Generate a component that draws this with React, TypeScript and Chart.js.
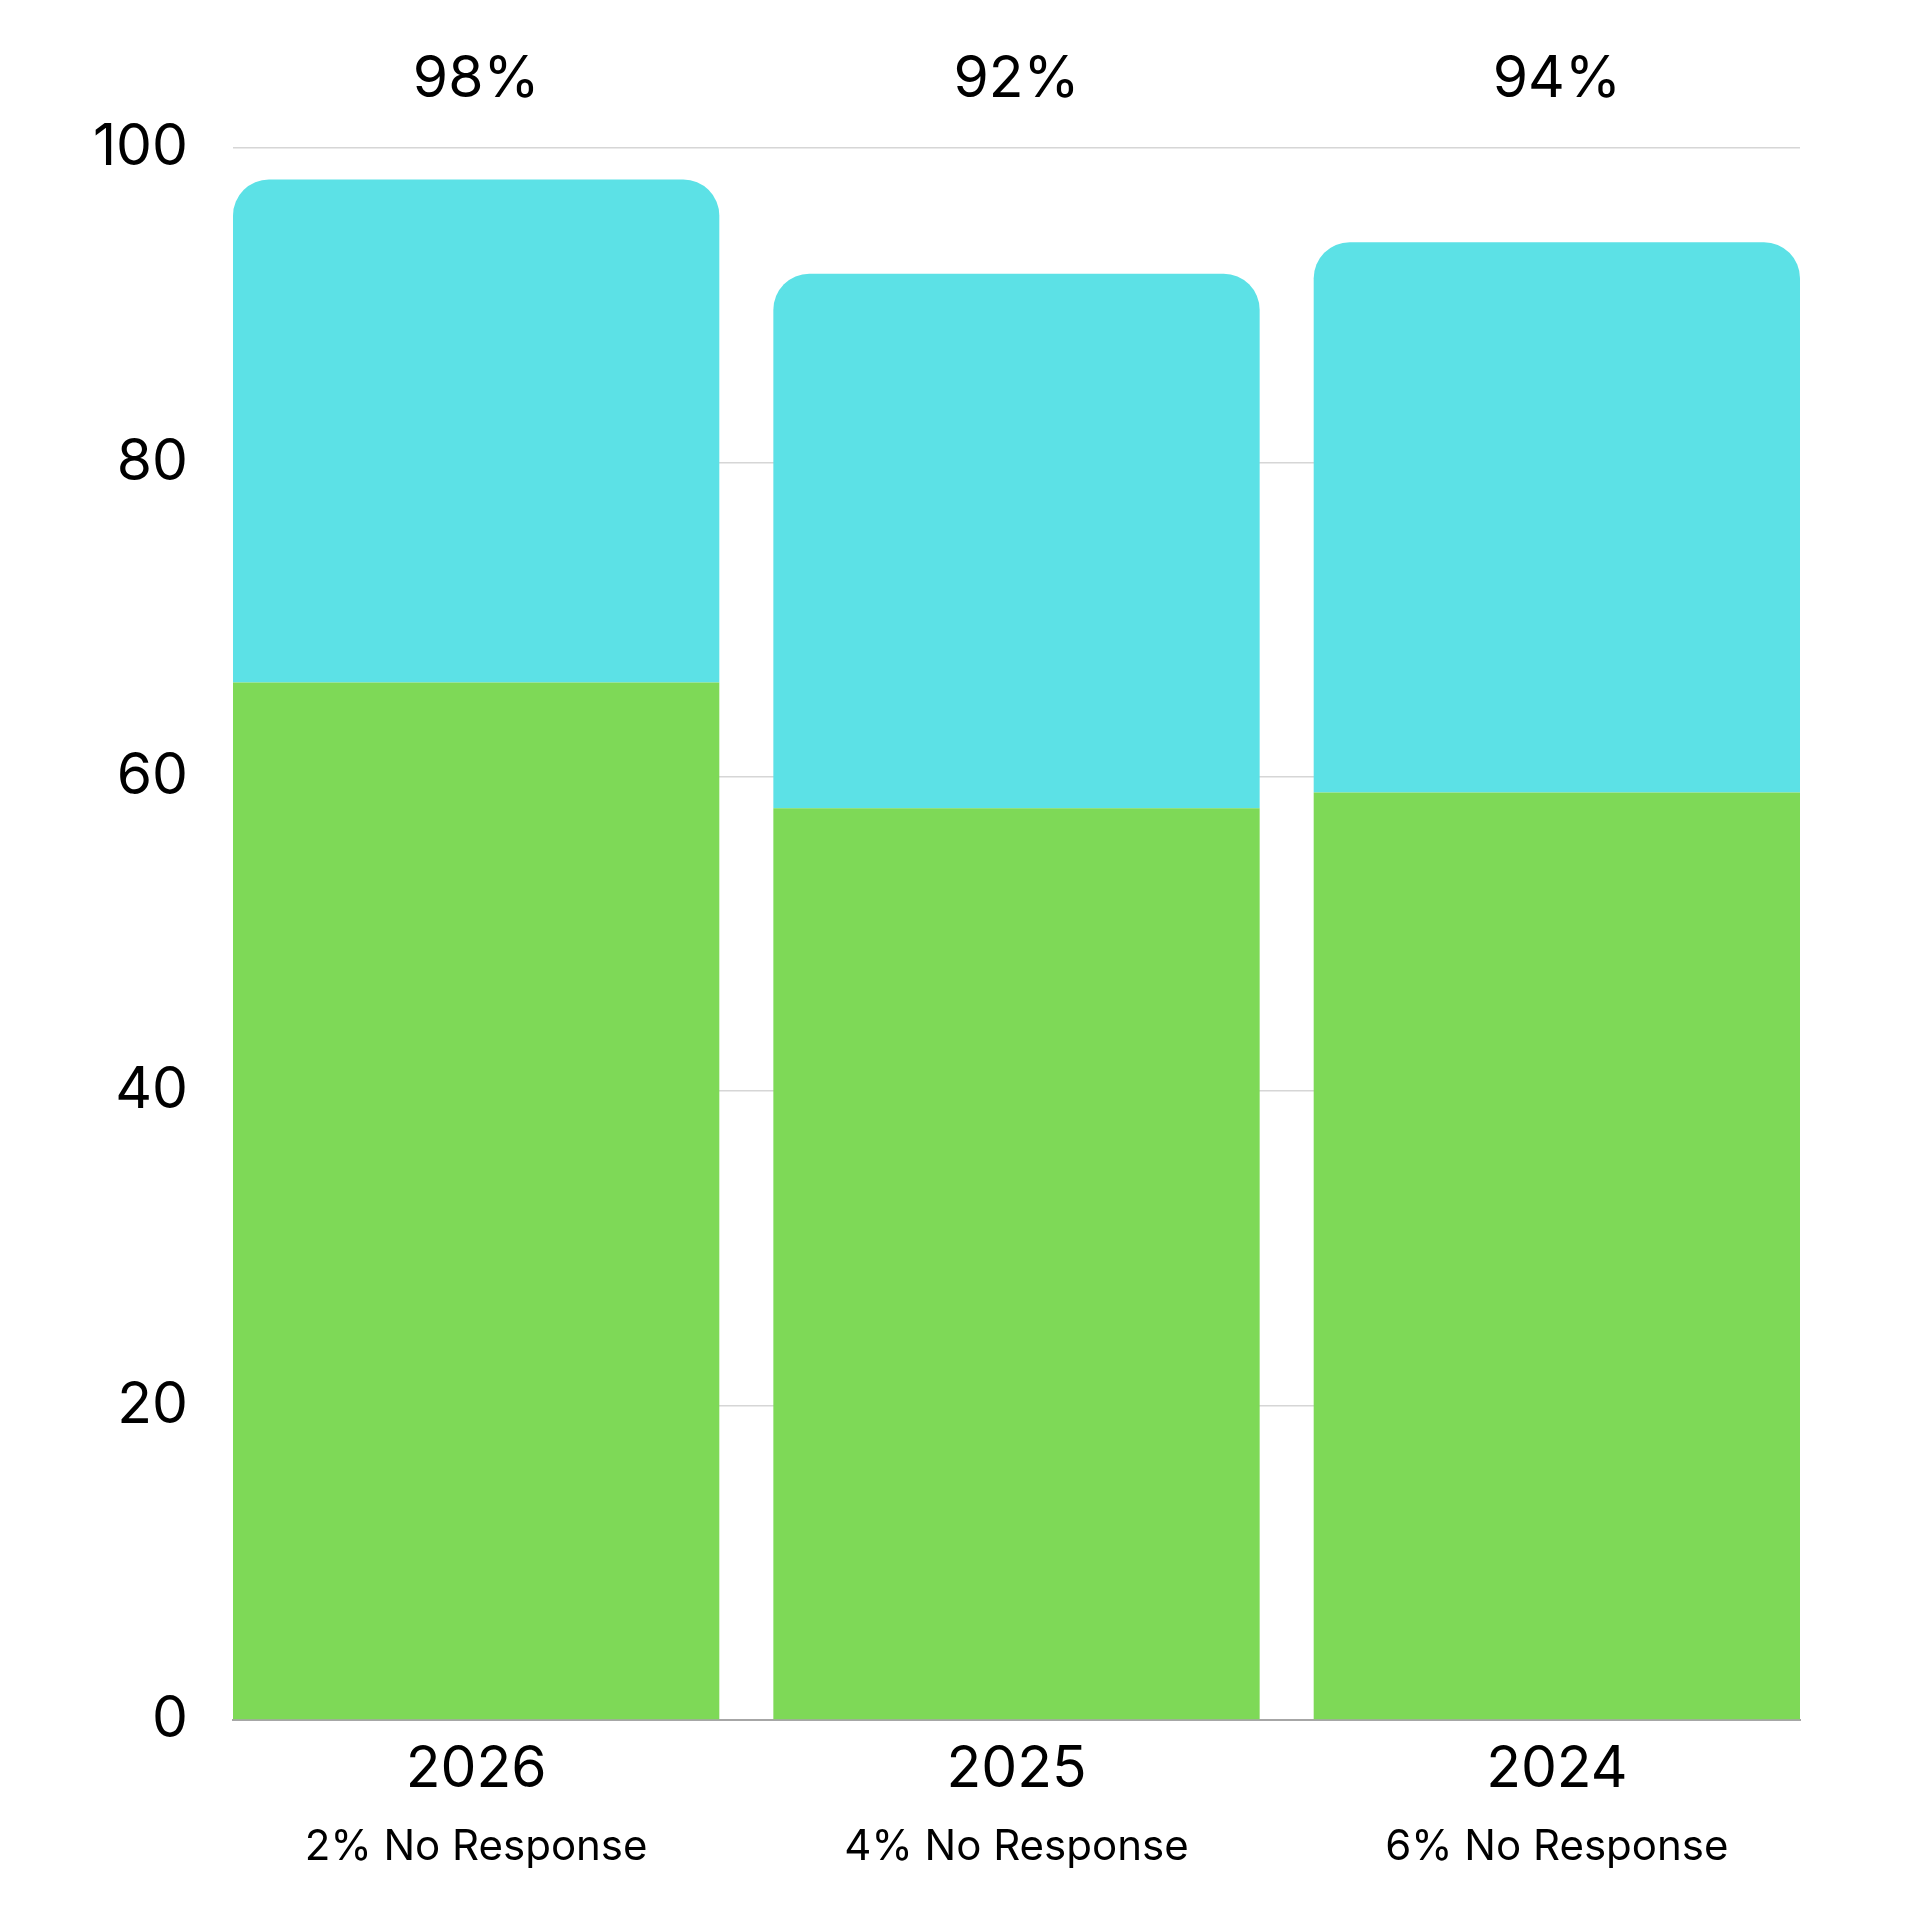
import { useEffect, useRef } from "react";
import { Chart, ChartConfiguration, Plugin, registerables } from "chart.js";

Chart.register(...registerables);

const years = ["2026", "2025", "2024"];
const greenValues = [66, 58, 59];
const cyanValues = [32, 34, 35];
const totalLabels = ["98%", "92%", "94%"];
const noResponse = [2, 4, 6];
const yTicks = [0, 20, 40, 60, 80, 100];

const FONT = "Inter, 'Noto Sans', sans-serif";

// totals above the plot and the "No Response" line under each year
const extraText: Plugin<"bar"> = {
  id: "extraText",
  afterDraw(chart) {
    const { ctx, chartArea, scales } = chart;
    const x = scales.x;
    ctx.save();
    ctx.fillStyle = "#000";
    ctx.textAlign = "center";
    ctx.textBaseline = "middle";
    ctx.font = `57px ${FONT}`;
    totalLabels.forEach((t, i) => {
      ctx.fillText(t, x.getPixelForValue(i), chartArea.top - 68);
    });
    ctx.font = `42px ${FONT}`;
    noResponse.forEach((v, i) => {
      ctx.fillText(`${v}% No Response`, x.getPixelForValue(i), chartArea.bottom + 127);
    });
    ctx.restore();
  },
};

export default function App() {
  const canvasRef = useRef<HTMLCanvasElement>(null);
  const chartRef = useRef<Chart | null>(null);

  useEffect(() => {
    if (!canvasRef.current) return;
    if (chartRef.current) chartRef.current.destroy();

    const config: ChartConfiguration<"bar"> = {
      type: "bar",
      data: {
        datasets: [
          {
            label: "Green",
            data: greenValues.map((v, i) => ({ x: i, y: v })),
            backgroundColor: "#7ED957",
            borderRadius: 0,
            barPercentage: 0.9,
            categoryPercentage: 1,
          },
          {
            label: "Cyan",
            data: cyanValues.map((v, i) => ({ x: i, y: v })),
            backgroundColor: "#5CE1E6",
            borderRadius: { topLeft: 36, topRight: 36, bottomLeft: 0, bottomRight: 0 },
            borderSkipped: false,
            barPercentage: 0.9,
            categoryPercentage: 1,
          },
        ],
      },
      options: {
        responsive: true,
        maintainAspectRatio: false,
        animation: false,
        layout: { padding: { top: 148, right: 120, left: 0, bottom: 0 } },
        plugins: {
          legend: { display: false },
          tooltip: { enabled: false },
        },
        scales: {
          x: {
            type: "linear",
            stacked: true,
            min: -0.45,
            max: 2.45,
            offset: false,
            grid: { display: false, drawTicks: false },
            border: { display: true, color: "#a6a6a6", width: 2 },
            afterBuildTicks(axis) {
              axis.ticks = years.map((_, i) => ({ value: i }));
            },
            ticks: {
              color: "#000",
              padding: 16,
              font: { family: FONT, size: 57 },
              callback: (v) => years[Number(v)] ?? "",
            },
            afterFit(axis) {
              axis.height = 200;
            },
          },
          y: {
            stacked: true,
            min: 0,
            max: 100,
            grid: { color: "#d6d6d6", lineWidth: 1.5, drawTicks: false },
            border: { display: false },
            afterBuildTicks(axis) {
              axis.ticks = yTicks.map((v) => ({ value: v }));
            },
            ticks: {
              color: "#000",
              padding: 45,
              font: { family: FONT, size: 57 },
            },
            afterFit(axis) {
              axis.width = 233;
            },
          },
        },
      },
      plugins: [extraText],
    };

    chartRef.current = new Chart(canvasRef.current, config);

    return () => {
      if (chartRef.current) {
        chartRef.current.destroy();
        chartRef.current = null;
      }
    };
  }, []);

  return (
    <div
      style={{
        position: "fixed",
        left: 0,
        top: 0,
        width: 1920,
        height: 1920,
        background: "#fff",
      }}
    >
      <canvas ref={canvasRef} />
    </div>
  );
}
